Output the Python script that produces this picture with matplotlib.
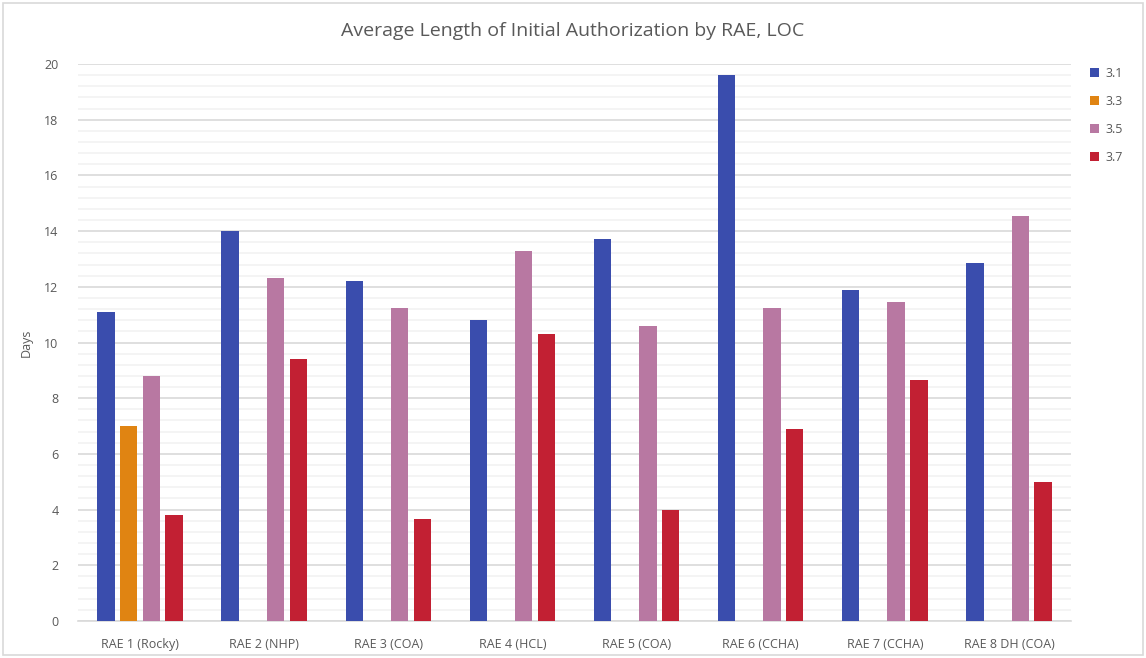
import matplotlib.pyplot as plt
import numpy as np
from matplotlib.patches import Rectangle
from matplotlib.ticker import MultipleLocator

# Average days of initial authorization per RAE and level of care
categories = ['RAE 1 (Rocky)', 'RAE 2 (NHP)', 'RAE 3 (COA)', 'RAE 4 (HCL)',
              'RAE 5 (COA)', 'RAE 6 (CCHA)', 'RAE 7 (CCHA)', 'RAE 8 DH (COA)']
series_names = ['3.1', '3.3', '3.5', '3.7']
loc_3_1 = [11.1, 14.0, 12.2, 10.8, 13.7, 19.6, 11.9, 12.85]
loc_3_3 = [7.0, np.nan, np.nan, np.nan, np.nan, np.nan, np.nan, np.nan]
loc_3_5 = [8.8, 12.3, 11.25, 13.3, 10.6, 11.25, 11.45, 14.55]
loc_3_7 = [3.8, 9.4, 3.65, 10.3, 4.0, 6.9, 8.65, 5.0]

colors = ['#3A4DAD', '#E08412', '#B878A2', '#C22033']
text_color = '#595959'

plt.rcParams['font.family'] = ['Open Sans', 'DejaVu Sans']

fig = plt.figure(figsize=(11.46, 6.58), dpi=100)
ax = fig.add_axes([78 / 1146, 1 - 621 / 658, (1071 - 78) / 1146, (621 - 64) / 658])

# Light frame round the whole chart
fig.patches.append(Rectangle((3 / 1146, 3 / 658), 1140 / 1146, 652 / 658,
                             transform=fig.transFigure, fill=False,
                             edgecolor='#D9D9D9', linewidth=1.2))

x = np.arange(len(categories))
width = 0.14
step = 0.183
all_series = [loc_3_1, loc_3_3, loc_3_5, loc_3_7]
for i, (vals, name) in enumerate(zip(all_series, series_names)):
    ax.bar(x + (i - 1.5) * step, vals, width, color=colors[i], label=name,
           zorder=3)

ax.set_xlim(-0.5, len(categories) - 0.5)
ax.set_ylim(0, 20)
ax.yaxis.set_major_locator(MultipleLocator(2))
ax.yaxis.set_minor_locator(MultipleLocator(0.4))
ax.grid(axis='y', which='major', color='#D9D9D9', linewidth=1.2, zorder=0)
ax.grid(axis='y', which='minor', color='#F2F2F2', linewidth=1.2, zorder=0)

ax.set_xticks(x)
ax.set_xticklabels(categories)
ax.tick_params(axis='both', which='both', length=0, colors=text_color,
               labelsize=9)
ax.tick_params(axis='x', pad=12)
ax.tick_params(axis='y', pad=14)

for side in ['top', 'right', 'left']:
    ax.spines[side].set_visible(False)
ax.spines['bottom'].set_color('#D9D9D9')
ax.spines['bottom'].set_linewidth(1.2)

ax.set_ylabel('Days', color=text_color, fontsize=9, labelpad=8)
fig.text(0.5, 1 - 31 / 658, 'Average Length of Initial Authorization by RAE, LOC',
         ha='center', va='center', fontsize=14, color=text_color)

leg = ax.legend(loc='upper left', bbox_to_anchor=(1.008, 1.015), frameon=False,
                fontsize=9, handlelength=0.7, handleheight=0.7,
                handletextpad=0.5, labelspacing=1.2, labelcolor=text_color)

fig.savefig('out.png', dpi=100)
